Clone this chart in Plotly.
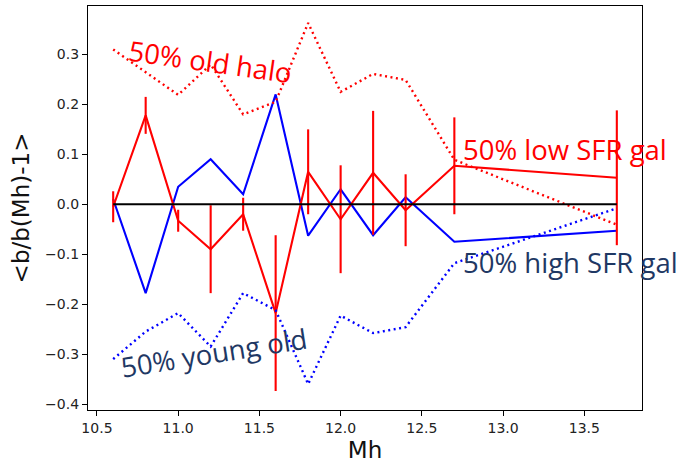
import plotly.graph_objects as go

# ---- data ----
mh = [10.6, 10.8, 11.0, 11.2, 11.4, 11.6, 11.8, 12.0, 12.2, 12.4, 12.7, 13.7]

low_sfr = [-0.005, 0.178, -0.033, -0.090, -0.020, -0.218, 0.065, -0.030, 0.063, -0.012, 0.077, 0.053]
low_sfr_err = [0.031, 0.037, 0.022, 0.088, 0.033, 0.156, 0.085, 0.108, 0.124, 0.072, 0.097, 0.135]

high_sfr = [0.010, -0.178, 0.035, 0.090, 0.020, 0.220, -0.063, 0.030, -0.062, 0.014, -0.075, -0.053]

old_halo = [0.310, 0.265, 0.219, 0.280, 0.180, 0.205, 0.363, 0.225, 0.261, 0.249, 0.089, -0.041]
young_halo = [-0.310, -0.255, -0.218, -0.285, -0.178, -0.212, -0.360, -0.223, -0.258, -0.246, -0.118, -0.008]

zero_line = [0.0] * len(mh)

x_ticks = [10.5, 11.0, 11.5, 12.0, 12.5, 13.0, 13.5]
y_ticks = [-0.4, -0.3, -0.2, -0.1, 0.0, 0.1, 0.2, 0.3]

RED = "#ff0000"
BLUE = "#0000ff"
NAVY = "#1f3864"

fig = go.Figure()

fig.add_trace(go.Scatter(x=mh, y=high_sfr, mode="lines",
                         line=dict(color=BLUE, width=2.1), showlegend=False))
fig.add_trace(go.Scatter(x=mh, y=low_sfr, mode="lines",
                         line=dict(color=RED, width=2.1),
                         error_y=dict(type="data", array=low_sfr_err, visible=True,
                                      color=RED, thickness=2.1, width=0),
                         showlegend=False))
fig.add_trace(go.Scatter(x=mh, y=old_halo, mode="lines",
                         line=dict(color=RED, width=2.4, dash="2px,3.5px"), showlegend=False))
fig.add_trace(go.Scatter(x=mh, y=young_halo, mode="lines",
                         line=dict(color=BLUE, width=2.4, dash="2px,3.5px"), showlegend=False))
fig.add_trace(go.Scatter(x=mh, y=zero_line, mode="lines",
                         line=dict(color="black", width=2.1), showlegend=False))

ann_font = "Open Sans"
fig.add_annotation(x=11.198, y=0.285, text="50% old halo", showarrow=False,
                   textangle=8, font=dict(family=ann_font, size=27.5, color=RED))
fig.add_annotation(x=11.223, y=-0.296, text="50% young old", showarrow=False,
                   textangle=-9, font=dict(family=ann_font, size=27.5, color=NAVY))
fig.add_annotation(x=12.74, y=0.109, text="50% low SFR gal", showarrow=False,
                   xanchor="left", yanchor="middle",
                   font=dict(family=ann_font, size=27.5, color=RED))
fig.add_annotation(x=12.74, y=-0.116, text="50% high SFR gal", showarrow=False,
                   xanchor="left", yanchor="middle",
                   font=dict(family=ann_font, size=27.5, color=NAVY))

axis_common = dict(showgrid=False, zeroline=False, showline=True, linecolor="black",
                   linewidth=1.3, mirror=True, ticks="outside", ticklen=5, tickwidth=1.2,
                   tickcolor="black", tickfont=dict(family="DejaVu Sans", size=14, color="#222"),
                   tickformat=".1f")

fig.update_xaxes(range=[10.445, 13.855], tickvals=x_ticks,
                 title=dict(text="Mh", font=dict(family="DejaVu Sans", size=23, color="#111"),
                            standoff=6),
                 **axis_common)
fig.update_yaxes(range=[-0.412, 0.397], tickvals=y_ticks,
                 title=dict(text="<b/b(Mh)-1>", font=dict(family="DejaVu Sans", size=23, color="#111"),
                            standoff=8),
                 **axis_common)

fig.update_layout(width=679, height=466, margin=dict(l=88, r=37, t=6, b=56),
                  plot_bgcolor="white", paper_bgcolor="white")

fig.write_html("out.html")
